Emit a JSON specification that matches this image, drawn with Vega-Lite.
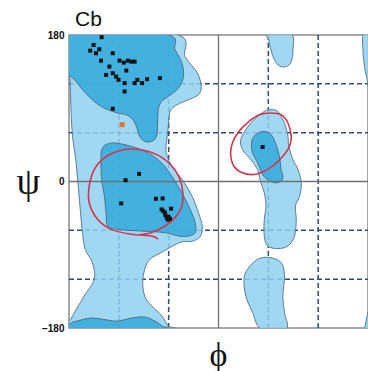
{
  "$schema": "https://vega.github.io/schema/vega-lite/v6.json",
  "width": 299,
  "height": 293,
  "autosize": "none",
  "padding": {"left": 69, "top": 35, "right": 0, "bottom": 43},
  "background": "white",
  "title": {"text": "Cb", "anchor": "start", "frame": "group", "dx": 6, "dy": 21, "offset": 0, "fontSize": 21, "font": "Liberation Sans", "fontWeight": "normal", "color": "#111", "baseline": "bottom"},
  "config": {"view": {"stroke": "#8a8a8a", "strokeWidth": 1.5}},
  "datasets": {
    "gridv": [{"phi": -120, "psi": -180, "psi2": 180}, {"phi": -60, "psi": -180, "psi2": 180}, {"phi": 60, "psi": -180, "psi2": 180}, {"phi": 120, "psi": -180, "psi2": 180}],
    "gridh": [{"psi": -120, "phi": -180, "phi2": 180}, {"psi": -60, "phi": -180, "phi2": 180}, {"psi": 60, "phi": -180, "phi2": 180}, {"psi": 120, "phi": -180, "phi2": 180}],
    "zerov": [{"phi": 0, "psi": -180, "psi2": 180}],
    "zeroh": [{"psi": 0, "phi": -180, "phi2": 180}],
    "regions": [
      {"r": "L1", "lvl": "light", "i": 1, "phi": -181, "psi": 181},
      {"r": "L1", "lvl": "light", "i": 2, "phi": -52.3, "psi": 181},
      {"r": "L1", "lvl": "light", "i": 3, "phi": -40.1, "psi": 153.1},
      {"r": "L1", "lvl": "light", "i": 4, "phi": -25.5, "psi": 133.5},
      {"r": "L1", "lvl": "light", "i": 5, "phi": -20.7, "psi": 116.3},
      {"r": "L1", "lvl": "light", "i": 6, "phi": -24.3, "psi": 106.5},
      {"r": "L1", "lvl": "light", "i": 7, "phi": -36.5, "psi": 100.4},
      {"r": "L1", "lvl": "light", "i": 8, "phi": -49.9, "psi": 94.3},
      {"r": "L1", "lvl": "light", "i": 9, "phi": -58.4, "psi": 85.7},
      {"r": "L1", "lvl": "light", "i": 10, "phi": -60.8, "psi": 63.7},
      {"r": "L1", "lvl": "light", "i": 11, "phi": -63.2, "psi": 42.9},
      {"r": "L1", "lvl": "light", "i": 12, "phi": -62.5, "psi": 33.5},
      {"r": "L1", "lvl": "light", "i": 13, "phi": -55.9, "psi": 18.4},
      {"r": "L1", "lvl": "light", "i": 14, "phi": -43.8, "psi": 2.4},
      {"r": "L1", "lvl": "light", "i": 15, "phi": -31.6, "psi": -18.4},
      {"r": "L1", "lvl": "light", "i": 16, "phi": -24.3, "psi": -38},
      {"r": "L1", "lvl": "light", "i": 17, "phi": -19.5, "psi": -55.1},
      {"r": "L1", "lvl": "light", "i": 18, "phi": -21.9, "psi": -67.3},
      {"r": "L1", "lvl": "light", "i": 19, "phi": -31.6, "psi": -73.5},
      {"r": "L1", "lvl": "light", "i": 20, "phi": -43.8, "psi": -74},
      {"r": "L1", "lvl": "light", "i": 21, "phi": -55.9, "psi": -79.6},
      {"r": "L1", "lvl": "light", "i": 22, "phi": -68.1, "psi": -86.9},
      {"r": "L1", "lvl": "light", "i": 23, "phi": -82.7, "psi": -95.5},
      {"r": "L1", "lvl": "light", "i": 24, "phi": -88.8, "psi": -107.8},
      {"r": "L1", "lvl": "light", "i": 25, "phi": -91.2, "psi": -123.7},
      {"r": "L1", "lvl": "light", "i": 26, "phi": -88.8, "psi": -140.8},
      {"r": "L1", "lvl": "light", "i": 27, "phi": -80.3, "psi": -153.1},
      {"r": "L1", "lvl": "light", "i": 28, "phi": -68.1, "psi": -165.3},
      {"r": "L1", "lvl": "light", "i": 29, "phi": -60.8, "psi": -177.6},
      {"r": "L1", "lvl": "light", "i": 30, "phi": -58.4, "psi": -181},
      {"r": "L1", "lvl": "light", "i": 31, "phi": -181, "psi": -181},
      {"r": "L1", "lvl": "light", "i": 32, "phi": -177.6, "psi": -169},
      {"r": "L1", "lvl": "light", "i": 33, "phi": -161.8, "psi": -140.8},
      {"r": "L1", "lvl": "light", "i": 34, "phi": -149.6, "psi": -120},
      {"r": "L1", "lvl": "light", "i": 35, "phi": -152, "psi": -99.2},
      {"r": "L1", "lvl": "light", "i": 36, "phi": -160.5, "psi": -83.3},
      {"r": "L1", "lvl": "light", "i": 37, "phi": -164.2, "psi": -58.8},
      {"r": "L1", "lvl": "light", "i": 38, "phi": -167.8, "psi": -18.4},
      {"r": "L1", "lvl": "light", "i": 39, "phi": -171.5, "psi": 23.3},
      {"r": "L1", "lvl": "light", "i": 40, "phi": -176.4, "psi": 63.7},
      {"r": "L1", "lvl": "light", "i": 41, "phi": -178.8, "psi": 124.9},
      {"r": "L2", "lvl": "light", "i": 1, "phi": 59.2, "psi": 181},
      {"r": "L2", "lvl": "light", "i": 2, "phi": 87.6, "psi": 181},
      {"r": "L2", "lvl": "light", "i": 3, "phi": 89.6, "psi": 161.6},
      {"r": "L2", "lvl": "light", "i": 4, "phi": 87.6, "psi": 147.3},
      {"r": "L2", "lvl": "light", "i": 5, "phi": 81.5, "psi": 141.2},
      {"r": "L2", "lvl": "light", "i": 6, "phi": 73.3, "psi": 142},
      {"r": "L2", "lvl": "light", "i": 7, "phi": 67.3, "psi": 149.4},
      {"r": "L2", "lvl": "light", "i": 8, "phi": 63.2, "psi": 161.6},
      {"r": "L2", "lvl": "light", "i": 9, "phi": 60.5, "psi": 173.9},
      {"r": "L3", "lvl": "light", "i": 1, "phi": 174, "psi": 181},
      {"r": "L3", "lvl": "light", "i": 2, "phi": 181, "psi": 181},
      {"r": "L3", "lvl": "light", "i": 3, "phi": 181, "psi": 120},
      {"r": "L3", "lvl": "light", "i": 4, "phi": 179, "psi": 125},
      {"r": "L3", "lvl": "light", "i": 5, "phi": 176, "psi": 140},
      {"r": "L3", "lvl": "light", "i": 6, "phi": 174, "psi": 160},
      {"r": "L4", "lvl": "light", "i": 1, "phi": 176, "psi": -181},
      {"r": "L4", "lvl": "light", "i": 2, "phi": 181, "psi": -181},
      {"r": "L4", "lvl": "light", "i": 3, "phi": 181, "psi": -160},
      {"r": "L4", "lvl": "light", "i": 4, "phi": 179, "psi": -165},
      {"r": "L4", "lvl": "light", "i": 5, "phi": 177, "psi": -175},
      {"r": "L5", "lvl": "light", "i": 1, "phi": 63.2, "psi": 88.2},
      {"r": "L5", "lvl": "light", "i": 2, "phi": 71.4, "psi": 86.1},
      {"r": "L5", "lvl": "light", "i": 3, "phi": 79.4, "psi": 71.9},
      {"r": "L5", "lvl": "light", "i": 4, "phi": 83.6, "psi": 55.5},
      {"r": "L5", "lvl": "light", "i": 5, "phi": 84.6, "psi": 43.2},
      {"r": "L5", "lvl": "light", "i": 6, "phi": 89.6, "psi": 26.9},
      {"r": "L5", "lvl": "light", "i": 7, "phi": 95.7, "psi": 14.7},
      {"r": "L5", "lvl": "light", "i": 8, "phi": 99.7, "psi": -1.6},
      {"r": "L5", "lvl": "light", "i": 9, "phi": 97.7, "psi": -18},
      {"r": "L5", "lvl": "light", "i": 10, "phi": 92.6, "psi": -30.2},
      {"r": "L5", "lvl": "light", "i": 11, "phi": 93.6, "psi": -46.5},
      {"r": "L5", "lvl": "light", "i": 12, "phi": 91.6, "psi": -67},
      {"r": "L5", "lvl": "light", "i": 13, "phi": 83.6, "psi": -79.2},
      {"r": "L5", "lvl": "light", "i": 14, "phi": 71.4, "psi": -82.4},
      {"r": "L5", "lvl": "light", "i": 15, "phi": 59.2, "psi": -79.2},
      {"r": "L5", "lvl": "light", "i": 16, "phi": 55.1, "psi": -67},
      {"r": "L5", "lvl": "light", "i": 17, "phi": 55.1, "psi": -46.5},
      {"r": "L5", "lvl": "light", "i": 18, "phi": 57.2, "psi": -30.2},
      {"r": "L5", "lvl": "light", "i": 19, "phi": 55.1, "psi": -13.8},
      {"r": "L5", "lvl": "light", "i": 20, "phi": 51.1, "psi": -1.6},
      {"r": "L5", "lvl": "light", "i": 21, "phi": 49, "psi": 6.5},
      {"r": "L5", "lvl": "light", "i": 22, "phi": 47, "psi": 14.7},
      {"r": "L5", "lvl": "light", "i": 23, "phi": 38.9, "psi": 26.9},
      {"r": "L5", "lvl": "light", "i": 24, "phi": 28.8, "psi": 39.2},
      {"r": "L5", "lvl": "light", "i": 25, "phi": 26.8, "psi": 51.4},
      {"r": "L5", "lvl": "light", "i": 26, "phi": 32.8, "psi": 63.7},
      {"r": "L5", "lvl": "light", "i": 27, "phi": 42.9, "psi": 75.9},
      {"r": "L5", "lvl": "light", "i": 28, "phi": 55.1, "psi": 86.1},
      {"r": "L6", "lvl": "light", "i": 1, "phi": 61.2, "psi": -93.4},
      {"r": "L6", "lvl": "light", "i": 2, "phi": 75.4, "psi": -99.6},
      {"r": "L6", "lvl": "light", "i": 3, "phi": 79.4, "psi": -116},
      {"r": "L6", "lvl": "light", "i": 4, "phi": 77.5, "psi": -140.5},
      {"r": "L6", "lvl": "light", "i": 5, "phi": 79.4, "psi": -160.8},
      {"r": "L6", "lvl": "light", "i": 6, "phi": 81.5, "psi": -181},
      {"r": "L6", "lvl": "light", "i": 7, "phi": 51.1, "psi": -181},
      {"r": "L6", "lvl": "light", "i": 8, "phi": 41, "psi": -160.8},
      {"r": "L6", "lvl": "light", "i": 9, "phi": 32.8, "psi": -140.5},
      {"r": "L6", "lvl": "light", "i": 10, "phi": 30.8, "psi": -120},
      {"r": "L6", "lvl": "light", "i": 11, "phi": 34.9, "psi": -107.8},
      {"r": "L6", "lvl": "light", "i": 12, "phi": 47.1, "psi": -95.5},
      {"r": "C1", "lvl": "core", "i": 1, "phi": -181, "psi": 181},
      {"r": "C1", "lvl": "core", "i": 2, "phi": -64.5, "psi": 181},
      {"r": "C1", "lvl": "core", "i": 3, "phi": -52.3, "psi": 161.6},
      {"r": "C1", "lvl": "core", "i": 4, "phi": -44.1, "psi": 145.3},
      {"r": "C1", "lvl": "core", "i": 5, "phi": -42.2, "psi": 128.9},
      {"r": "C1", "lvl": "core", "i": 6, "phi": -48.3, "psi": 114.7},
      {"r": "C1", "lvl": "core", "i": 7, "phi": -60.4, "psi": 104.5},
      {"r": "C1", "lvl": "core", "i": 8, "phi": -68.5, "psi": 98.3},
      {"r": "C1", "lvl": "core", "i": 9, "phi": -72.6, "psi": 88.2},
      {"r": "C1", "lvl": "core", "i": 10, "phi": -73.3, "psi": 71.9},
      {"r": "C1", "lvl": "core", "i": 11, "phi": -74.6, "psi": 55.5},
      {"r": "C1", "lvl": "core", "i": 12, "phi": -80.6, "psi": 49.3},
      {"r": "C1", "lvl": "core", "i": 13, "phi": -88.8, "psi": 49.3},
      {"r": "C1", "lvl": "core", "i": 14, "phi": -94.9, "psi": 55.5},
      {"r": "C1", "lvl": "core", "i": 15, "phi": -98.9, "psi": 67.7},
      {"r": "C1", "lvl": "core", "i": 16, "phi": -103, "psi": 75.9},
      {"r": "C1", "lvl": "core", "i": 17, "phi": -111, "psi": 82},
      {"r": "C1", "lvl": "core", "i": 18, "phi": -121.3, "psi": 84.1},
      {"r": "C1", "lvl": "core", "i": 19, "phi": -137.4, "psi": 90.2},
      {"r": "C1", "lvl": "core", "i": 20, "phi": -149.6, "psi": 98.3},
      {"r": "C1", "lvl": "core", "i": 21, "phi": -161.8, "psi": 110.6},
      {"r": "C1", "lvl": "core", "i": 22, "phi": -169.9, "psi": 120.9},
      {"r": "C1", "lvl": "core", "i": 23, "phi": -177.2, "psi": 128.9},
      {"r": "C1", "lvl": "core", "i": 24, "phi": -181, "psi": 131},
      {"r": "C2", "lvl": "core", "i": 1, "phi": -135.4, "psi": 45.3},
      {"r": "C2", "lvl": "core", "i": 2, "phi": -125.3, "psi": 47.4},
      {"r": "C2", "lvl": "core", "i": 3, "phi": -105, "psi": 43.2},
      {"r": "C2", "lvl": "core", "i": 4, "phi": -84.8, "psi": 35.1},
      {"r": "C2", "lvl": "core", "i": 5, "phi": -68.5, "psi": 22.9},
      {"r": "C2", "lvl": "core", "i": 6, "phi": -56.3, "psi": 6.5},
      {"r": "C2", "lvl": "core", "i": 7, "phi": -44.1, "psi": -13.8},
      {"r": "C2", "lvl": "core", "i": 8, "phi": -34.1, "psi": -34.3},
      {"r": "C2", "lvl": "core", "i": 9, "phi": -28, "psi": -50.6},
      {"r": "C2", "lvl": "core", "i": 10, "phi": -28, "psi": -62.8},
      {"r": "C2", "lvl": "core", "i": 11, "phi": -36.1, "psi": -67},
      {"r": "C2", "lvl": "core", "i": 12, "phi": -48.3, "psi": -67},
      {"r": "C2", "lvl": "core", "i": 13, "phi": -64.5, "psi": -62.8},
      {"r": "C2", "lvl": "core", "i": 14, "phi": -92.8, "psi": -60.9},
      {"r": "C2", "lvl": "core", "i": 15, "phi": -121.3, "psi": -58.8},
      {"r": "C2", "lvl": "core", "i": 16, "phi": -133.4, "psi": -54.7},
      {"r": "C2", "lvl": "core", "i": 17, "phi": -135.4, "psi": -38.3},
      {"r": "C2", "lvl": "core", "i": 18, "phi": -137.4, "psi": -18},
      {"r": "C2", "lvl": "core", "i": 19, "phi": -140.7, "psi": 2.4},
      {"r": "C2", "lvl": "core", "i": 20, "phi": -141.5, "psi": 31},
      {"r": "C2", "lvl": "core", "i": 21, "phi": -139.5, "psi": 41.3},
      {"r": "C3", "lvl": "core", "i": 1, "phi": -181, "psi": -181},
      {"r": "C3", "lvl": "core", "i": 2, "phi": -177.6, "psi": -173.9},
      {"r": "C3", "lvl": "core", "i": 3, "phi": -170.3, "psi": -171.5},
      {"r": "C3", "lvl": "core", "i": 4, "phi": -153.2, "psi": -167.8},
      {"r": "C3", "lvl": "core", "i": 5, "phi": -133.8, "psi": -170.2},
      {"r": "C3", "lvl": "core", "i": 6, "phi": -121.6, "psi": -171.5},
      {"r": "C3", "lvl": "core", "i": 7, "phi": -104.6, "psi": -167.8},
      {"r": "C3", "lvl": "core", "i": 8, "phi": -88.8, "psi": -166.5},
      {"r": "C3", "lvl": "core", "i": 9, "phi": -76.6, "psi": -171.5},
      {"r": "C3", "lvl": "core", "i": 10, "phi": -68.1, "psi": -177.6},
      {"r": "C3", "lvl": "core", "i": 11, "phi": -66.9, "psi": -181},
      {"r": "C4", "lvl": "core", "i": 1, "phi": 42.9, "psi": 55.5},
      {"r": "C4", "lvl": "core", "i": 2, "phi": 53.1, "psi": 61.6},
      {"r": "C4", "lvl": "core", "i": 3, "phi": 63.2, "psi": 57.6},
      {"r": "C4", "lvl": "core", "i": 4, "phi": 69.3, "psi": 45.3},
      {"r": "C4", "lvl": "core", "i": 5, "phi": 73.3, "psi": 31},
      {"r": "C4", "lvl": "core", "i": 6, "phi": 75.4, "psi": 14.7},
      {"r": "C4", "lvl": "core", "i": 7, "phi": 77.5, "psi": 6.5},
      {"r": "C4", "lvl": "core", "i": 8, "phi": 75.4, "psi": 0.4},
      {"r": "C4", "lvl": "core", "i": 9, "phi": 67.3, "psi": -1.6},
      {"r": "C4", "lvl": "core", "i": 10, "phi": 59.2, "psi": 2.4},
      {"r": "C4", "lvl": "core", "i": 11, "phi": 53.1, "psi": 8.6},
      {"r": "C4", "lvl": "core", "i": 12, "phi": 47.1, "psi": 22.9},
      {"r": "C4", "lvl": "core", "i": 13, "phi": 41, "psi": 35.1},
      {"r": "C4", "lvl": "core", "i": 14, "phi": 39.8, "psi": 47.4}
    ],
    "ellipses": [
      {"e": "E1", "i": 1, "phi": -72.6, "psi": -71},
      {"e": "E1", "i": 2, "phi": -80.6, "psi": -67},
      {"e": "E1", "i": 3, "phi": -105, "psi": -64.9},
      {"e": "E1", "i": 4, "phi": -129.3, "psi": -58.8},
      {"e": "E1", "i": 5, "phi": -145.6, "psi": -46.5},
      {"e": "E1", "i": 6, "phi": -155.7, "psi": -26.1},
      {"e": "E1", "i": 7, "phi": -155.7, "psi": -5.8},
      {"e": "E1", "i": 8, "phi": -149.6, "psi": 14.7},
      {"e": "E1", "i": 9, "phi": -137.4, "psi": 29},
      {"e": "E1", "i": 10, "phi": -121.3, "psi": 37.1},
      {"e": "E1", "i": 11, "phi": -105, "psi": 40},
      {"e": "E1", "i": 12, "phi": -84.8, "psi": 37.1},
      {"e": "E1", "i": 13, "phi": -64.5, "psi": 26.9},
      {"e": "E1", "i": 14, "phi": -50.2, "psi": 10.7},
      {"e": "E1", "i": 15, "phi": -43.4, "psi": -9.8},
      {"e": "E1", "i": 16, "phi": -44.1, "psi": -30.2},
      {"e": "E1", "i": 17, "phi": -52.3, "psi": -44.4},
      {"e": "E1", "i": 18, "phi": -64.5, "psi": -54.7},
      {"e": "E1", "i": 19, "phi": -80.6, "psi": -62.8},
      {"e": "E1", "i": 20, "phi": -95, "psi": -65.5},
      {"e": "E2", "i": 1, "phi": 63.2, "psi": 84.1},
      {"e": "E2", "i": 2, "phi": 75.4, "psi": 82},
      {"e": "E2", "i": 3, "phi": 83.6, "psi": 71.9},
      {"e": "E2", "i": 4, "phi": 87.6, "psi": 55.5},
      {"e": "E2", "i": 5, "phi": 85.5, "psi": 43.2},
      {"e": "E2", "i": 6, "phi": 77.5, "psi": 31},
      {"e": "E2", "i": 7, "phi": 67.3, "psi": 20.8},
      {"e": "E2", "i": 8, "phi": 55.1, "psi": 12.6},
      {"e": "E2", "i": 9, "phi": 42.9, "psi": 8.6},
      {"e": "E2", "i": 10, "phi": 28.8, "psi": 10.7},
      {"e": "E2", "i": 11, "phi": 18.6, "psi": 18.7},
      {"e": "E2", "i": 12, "phi": 14.6, "psi": 33.1},
      {"e": "E2", "i": 13, "phi": 16.7, "psi": 47.4},
      {"e": "E2", "i": 14, "phi": 24.7, "psi": 61.6},
      {"e": "E2", "i": 15, "phi": 36.9, "psi": 73.8},
      {"e": "E2", "i": 16, "phi": 49, "psi": 82}
    ],
    "pts": [
      {"kind": "res", "phi": -140.7, "psi": 177.2},
      {"kind": "res", "phi": -150.4, "psi": 167.7},
      {"kind": "res", "phi": -143.5, "psi": 162.5},
      {"kind": "res", "phi": -154.5, "psi": 160.8},
      {"kind": "res", "phi": -147.5, "psi": 157.6},
      {"kind": "res", "phi": -141.5, "psi": 148.5},
      {"kind": "res", "phi": -127.3, "psi": 157.6},
      {"kind": "res", "phi": -119.2, "psi": 148.5},
      {"kind": "res", "phi": -114, "psi": 146.1},
      {"kind": "res", "phi": -109.1, "psi": 148.5},
      {"kind": "res", "phi": -105, "psi": 147.3},
      {"kind": "res", "phi": -101, "psi": 147.3},
      {"kind": "res", "phi": -111, "psi": 136.3},
      {"kind": "res", "phi": -131.4, "psi": 141.2},
      {"kind": "res", "phi": -135.4, "psi": 131},
      {"kind": "res", "phi": -127.3, "psi": 133.1},
      {"kind": "res", "phi": -123.2, "psi": 128.9},
      {"kind": "res", "phi": -120.4, "psi": 124.9},
      {"kind": "res", "phi": -113.1, "psi": 120.9},
      {"kind": "res", "phi": -101, "psi": 120.9},
      {"kind": "res", "phi": -97.7, "psi": 124.9},
      {"kind": "res", "phi": -92.1, "psi": 120.9},
      {"kind": "res", "phi": -86, "psi": 125.7},
      {"kind": "res", "phi": -70.5, "psi": 127},
      {"kind": "res", "phi": -113.1, "psi": 110.6},
      {"kind": "res", "phi": -127.3, "psi": 89.4},
      {"kind": "res", "phi": -111.9, "psi": 1.6},
      {"kind": "res", "phi": -95.7, "psi": 9.4},
      {"kind": "res", "phi": -117.1, "psi": -26.9},
      {"kind": "res", "phi": -75.4, "psi": -21.2},
      {"kind": "res", "phi": -67.3, "psi": -20.8},
      {"kind": "res", "phi": -68.5, "psi": -34.3},
      {"kind": "res", "phi": -64.5, "psi": -38.3},
      {"kind": "res", "phi": -60.4, "psi": -43.2},
      {"kind": "res", "phi": -57.2, "psi": -33.4},
      {"kind": "res", "phi": -62.4, "psi": -44.4},
      {"kind": "res", "phi": -66.5, "psi": -36.4},
      {"kind": "res", "phi": -58.4, "psi": -45.7},
      {"kind": "res", "phi": -64, "psi": -41},
      {"kind": "res", "phi": -61, "psi": -47},
      {"kind": "res", "phi": 53.1, "psi": 42.4},
      {"kind": "gly", "phi": -115.9, "psi": 69.8}
    ]
  },
  "encoding": {
    "x": {"field": "phi", "type": "quantitative", "scale": {"domain": [-180, 180], "nice": false, "zero": false},
      "axis": {"title": "ϕ", "titleFont": "Liberation Serif", "titleFontSize": 34, "titleFontWeight": "normal", "titleColor": "#111", "labels": false, "ticks": false, "domain": false, "grid": false, "titleY": 27, "titleX": 149, "titleAlign": "center", "titleBaseline": "middle"}},
    "y": {"field": "psi", "type": "quantitative", "scale": {"domain": [-180, 180], "nice": false, "zero": false},
      "axis": {"values": [-180, 0, 180], "labelFont": "Liberation Sans", "labelFontSize": 10, "labelFontWeight": "bold", "labelColor": "#111", "labelPadding": 5, "ticks": false, "domain": false, "grid": false, "labelFlush": false,
        "title": "ψ", "titleAngle": 0, "titleFont": "Liberation Serif", "titleFontSize": 38, "titleFontWeight": "normal", "titleColor": "#111", "titleX": -41, "titleY": 147, "titleAlign": "center", "titleBaseline": "middle"}}
  },
  "layer": [
    {"data": {"name": "gridv"}, "mark": {"type": "rule", "stroke": "#2f4a78", "strokeWidth": 1.5, "strokeDash": [5, 3]}, "encoding": {"y2": {"field": "psi2"}}},
    {"data": {"name": "gridh"}, "mark": {"type": "rule", "stroke": "#2f4a78", "strokeWidth": 1.5, "strokeDash": [5, 3]}, "encoding": {"x2": {"field": "phi2"}}},
    {"data": {"name": "regions"}, "transform": [{"filter": "datum.lvl == 'light'"}],
      "mark": {"type": "line", "interpolate": "cardinal-closed", "fill": "#8fd0ee", "fillOpacity": 0.85, "stroke": "#5b7d95", "strokeWidth": 1, "clip": true},
      "encoding": {"detail": {"field": "r"}, "order": {"field": "i", "type": "quantitative"}}},
    {"data": {"name": "regions"}, "transform": [{"filter": "datum.lvl == 'core'"}],
      "mark": {"type": "line", "interpolate": "cardinal-closed", "fill": "#33aadd", "fillOpacity": 0.85, "stroke": "#4d6f88", "strokeWidth": 1, "clip": true},
      "encoding": {"detail": {"field": "r"}, "order": {"field": "i", "type": "quantitative"}}},
    {"data": {"name": "zerov"}, "mark": {"type": "rule", "stroke": "#707070", "strokeWidth": 1.3}, "encoding": {"y2": {"field": "psi2"}}},
    {"data": {"name": "zeroh"}, "mark": {"type": "rule", "stroke": "#707070", "strokeWidth": 1.3}, "encoding": {"x2": {"field": "phi2"}}},
    {"data": {"name": "ellipses"}, "transform": [{"filter": "datum.e == 'E1'"}],
      "mark": {"type": "line", "interpolate": "cardinal", "stroke": "#d6344e", "strokeWidth": 1.6},
      "encoding": {"order": {"field": "i", "type": "quantitative"}}},
    {"data": {"name": "ellipses"}, "transform": [{"filter": "datum.e == 'E2'"}],
      "mark": {"type": "line", "interpolate": "cardinal-closed", "stroke": "#d6344e", "strokeWidth": 1.6},
      "encoding": {"order": {"field": "i", "type": "quantitative"}}},
    {"data": {"name": "pts"}, "transform": [{"filter": "datum.kind == 'res'"}],
      "mark": {"type": "point", "shape": "square", "filled": true, "size": 16, "color": "#111", "opacity": 1}},
    {"data": {"name": "pts"}, "transform": [{"filter": "datum.kind == 'gly'"}],
      "mark": {"type": "point", "shape": "square", "filled": true, "size": 24, "color": "#e8702a", "opacity": 1}}
  ]
}
